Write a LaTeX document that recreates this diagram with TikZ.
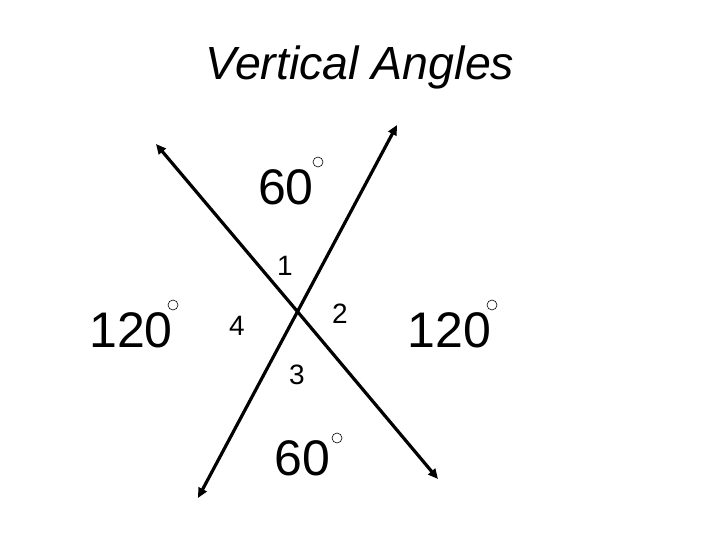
\documentclass[tikz,border=0pt]{standalone}
\usepackage{fontspec}
\setmainfont{Liberation Sans}
\usetikzlibrary{arrows.meta}
\begin{document}
\begin{tikzpicture}[x=1pt,y=-1pt,
  ray/.style={line width=3.2pt,-{Triangle[length=10pt,width=9pt]}},
  big/.style={font=\fontsize{50}{60}\selectfont,inner sep=0pt,anchor=base},
  small/.style={font=\fontsize{28}{34}\selectfont,inner sep=0pt,anchor=base},
  deg/.style={circle,draw,line width=0.6pt,minimum size=10pt,inner sep=0pt}]
\useasboundingbox (0,0) rectangle (720,540);
\node[font=\fontsize{46.5}{54}\selectfont\itshape,inner sep=0pt,anchor=base] (title) at (360,80) {Vertical Angles};
\coordinate (O) at (297.5,311.6);
\coordinate (ul) at (156,144);
\coordinate (lr) at (438,479);
\coordinate (ur) at (397,125);
\coordinate (ll) at (198,498);
\draw[ray] (O) -- (ul);
\draw[ray] (O) -- (lr);
\draw[ray] (O) -- (ur);
\draw[ray] (O) -- (ll);
\node[big] (t60) at (286,205) {60};
\node[deg] (t60d) at (318,162) {};
\node[big] (b60) at (302.5,475) {60};
\node[deg] (b60d) at (337,438) {};
\node[big] (l120) at (131,347) {120};
\node[deg] (l120d) at (173,305) {};
\node[big] (r120) at (449.5,347) {120};
\node[deg] (r120d) at (492,305) {};
\node[small] (a1) at (285,275) {1};
\node[small] (a2) at (340,323) {2};
\node[small] (a3) at (297,384) {3};
\node[small] (a4) at (237,335) {4};
\end{tikzpicture}
\end{document}
